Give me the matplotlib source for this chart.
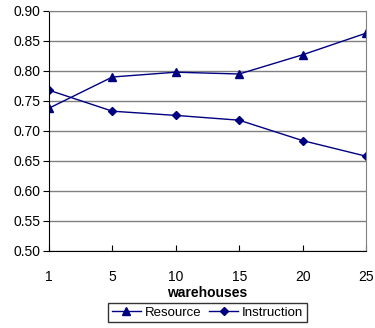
import matplotlib.pyplot as plt

plt.rcParams['font.family'] = ['Liberation Sans', 'DejaVu Sans']

warehouses = ['1', '5', '10', '15', '20', '25']
resource = [0.738, 0.790, 0.798, 0.795, 0.827, 0.863]
instruction = [0.768, 0.733, 0.726, 0.718, 0.684, 0.658]

navy = '#000080'

fig = plt.figure(figsize=(3.75, 3.28), dpi=100)
ax = fig.add_axes([49 / 375, 1 - 251 / 328, 317 / 375, 240 / 328])

x = range(len(warehouses))
ax.plot(x, resource, color=navy, lw=1, marker='^', ms=6, label='Resource')
ax.plot(x, instruction, color=navy, lw=1, marker='D', ms=4, label='Instruction')

ax.set_xlim(0, len(warehouses) - 1)
ax.set_ylim(0.50, 0.90)
ax.set_xticks(list(x))
ax.set_xticklabels(warehouses)
ax.set_yticks([0.50 + 0.05 * i for i in range(9)])
ax.set_yticklabels(['%.2f' % (0.50 + 0.05 * i) for i in range(9)])
ax.yaxis.grid(True, color='#808080', lw=1)
ax.set_axisbelow(True)

for side in ['top', 'right']:
    ax.spines[side].set_color('#808080')
for side in ['left', 'bottom']:
    ax.spines[side].set_color('black')
ax.tick_params(axis='y', direction='out', length=4, labelsize=10, pad=2)
ax.tick_params(axis='x', direction='in', length=4, labelsize=10, pad=14)

ax.set_xlabel('warehouses', fontsize=10, fontweight='bold', labelpad=1)

leg = ax.legend(loc='upper center', bbox_to_anchor=(0.5, -0.19), ncol=2,
                frameon=True, fancybox=False, fontsize=9.5, handlelength=2.2,
                handletextpad=0.3, columnspacing=0.6, borderpad=0.25)
leg.get_frame().set_edgecolor('black')
leg.get_frame().set_linewidth(1)

fig.savefig('out.png', dpi=100)
